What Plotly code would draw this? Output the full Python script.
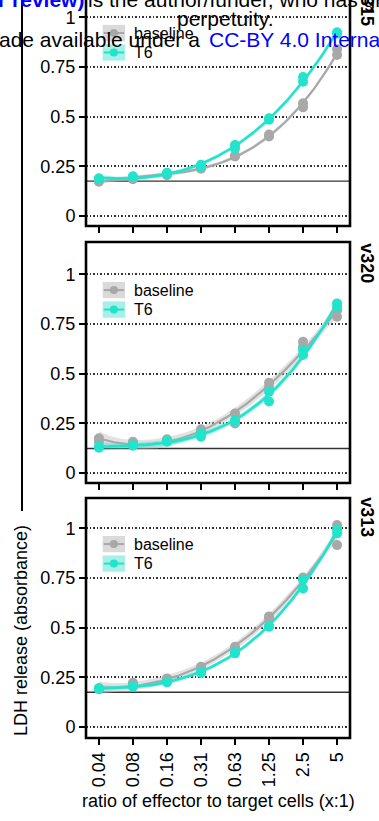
import numpy as np
import plotly.graph_objects as go
from plotly.subplots import make_subplots

# ratio of effector to target cells (x:1)
doses = ["0.04", "0.08", "0.16", "0.31", "0.63", "1.25", "2.5", "5"]
panels = ["v315", "v320", "v313"]

# LDH release (absorbance), two replicate wells per dose
v315_baseline_r1 = [0.173, 0.185, 0.205, 0.238, 0.300, 0.400, 0.547, 0.810]
v315_baseline_r2 = [0.180, 0.188, 0.212, 0.244, 0.305, 0.410, 0.567, 0.839]
v315_t6_r1 = [0.186, 0.196, 0.212, 0.248, 0.340, 0.485, 0.676, 0.918]
v315_t6_r2 = [0.190, 0.200, 0.218, 0.258, 0.357, 0.492, 0.700, 0.925]

v320_baseline_r1 = [0.175, 0.158, 0.170, 0.220, 0.300, 0.454, 0.661, 0.820]
v320_baseline_r2 = [0.158, 0.150, 0.165, 0.208, 0.250, 0.430, 0.636, 0.787]
v320_t6_r1 = [0.132, 0.141, 0.161, 0.200, 0.265, 0.410, 0.619, 0.854]
v320_t6_r2 = [0.128, 0.138, 0.158, 0.183, 0.258, 0.360, 0.594, 0.837]

v313_baseline_r1 = [0.195, 0.223, 0.245, 0.303, 0.404, 0.557, 0.753, 1.017]
v313_baseline_r2 = [0.190, 0.215, 0.238, 0.295, 0.395, 0.547, 0.745, 0.916]
v313_t6_r1 = [0.195, 0.206, 0.228, 0.278, 0.371, 0.507, 0.743, 0.995]
v313_t6_r2 = [0.192, 0.203, 0.225, 0.272, 0.378, 0.505, 0.698, 0.975]

# target-only background per panel
background = [0.176, 0.124, 0.175]

data = {
    "v315": {"baseline": (v315_baseline_r1, v315_baseline_r2), "T6": (v315_t6_r1, v315_t6_r2)},
    "v320": {"baseline": (v320_baseline_r1, v320_baseline_r2), "T6": (v320_t6_r1, v320_t6_r2)},
    "v313": {"baseline": (v313_baseline_r1, v313_baseline_r2), "T6": (v313_t6_r1, v313_t6_r2)},
}

FONT = "Liberation Sans, Arial, sans-serif"
COL = {"baseline": "#A8A8A8", "T6": "#22E3CC"}
BAND = {"baseline": "rgba(190,190,190,0.45)", "T6": "rgba(60,225,205,0.40)"}
KEYBOX = {"baseline": "#DADADA", "T6": "#A6F0E7"}


def smooth(reps):
    # cubic fit over dose index with 95% band, like a geom_smooth
    xi = np.tile(np.arange(len(doses)), len(reps)).astype(float)
    yi = np.concatenate([np.asarray(r, float) for r in reps])
    V = np.vander(xi, 4)
    beta, *_ = np.linalg.lstsq(V, yi, rcond=None)
    res = yi - V @ beta
    s2 = res @ res / (len(yi) - 4)
    cov = s2 * np.linalg.inv(V.T @ V)
    xg = np.linspace(0, len(doses) - 1, 120)
    Vg = np.vander(xg, 4)
    pred = Vg @ beta
    se = np.sqrt(np.sum((Vg @ cov) * Vg, axis=1))
    return xg, pred, pred - 2.0 * se, pred + 2.0 * se


fig = make_subplots(rows=3, cols=1, shared_xaxes=False)

H = 738.0  # plot area height in px (margin top 0, bottom 83)
domains = [[512 / H, 1.0], [255 / H, 496 / H], [0.0, 240 / H]]
ranges = [[-0.05, 1.087], [-0.05, 1.163], [-0.055, 1.153]]

for row, name in enumerate(panels, start=1):
    for grp in ["baseline", "T6"]:
        xg, pred, lo, hi = smooth(data[name][grp])
        fig.add_trace(go.Scatter(x=xg, y=lo, mode="lines", line=dict(width=0),
                                 hoverinfo="skip", showlegend=False), row=row, col=1)
        fig.add_trace(go.Scatter(x=xg, y=hi, mode="lines", line=dict(width=0),
                                 fill="tonexty", fillcolor=BAND[grp],
                                 hoverinfo="skip", showlegend=False), row=row, col=1)
        fig.add_trace(go.Scatter(x=xg, y=pred, mode="lines",
                                 line=dict(color=COL[grp], width=2.2 if grp == "baseline" else 2.6),
                                 hoverinfo="skip", showlegend=False), row=row, col=1)
    for grp in ["baseline", "T6"]:
        for rep in data[name][grp]:
            fig.add_trace(go.Scatter(x=list(range(len(doses))), y=rep, mode="markers",
                                     marker=dict(color=COL[grp], size=10),
                                     name=grp, showlegend=False), row=row, col=1)

shapes = []
annotations = []
for i, name in enumerate(panels):
    ax = "" if i == 0 else str(i + 1)
    xa, ya = "x" + ax, "y" + ax
    fig.layout["yaxis" + ax].update(
        domain=domains[i], range=ranges[i], tickvals=[0, 0.25, 0.5, 0.75, 1],
        ticktext=["0", "0.25", "0.5", "0.75", "1"], ticks="outside", ticklen=6,
        tickwidth=1.5, tickcolor="black", showline=False, zeroline=False,
        showgrid=True, gridcolor="#333333", griddash="1.5px,2px", gridwidth=1.5,
        tickfont=dict(size=18, color="black", family=FONT))
    fig.layout["xaxis" + ax].update(
        range=[-0.38, 7.38], tickvals=list(range(len(doses))), ticktext=doses,
        ticks="outside", ticklen=6, tickwidth=1.5, tickcolor="black",
        showgrid=False, zeroline=False, showline=False, tickangle=-90,
        showticklabels=(i == 2), tickfont=dict(size=18, color="black", family=FONT))

    # panel border (top panel runs off the page)
    shapes.append(dict(type="rect", xref=xa + " domain", yref=ya + " domain",
                       x0=0, x1=1, y0=0, y1=1.2 if i == 0 else 1,
                       line=dict(color="black", width=2.6), layer="above"))
    # background line
    shapes.append(dict(type="line", xref=xa + " domain", yref=ya, x0=0, x1=1,
                       y0=background[i], y1=background[i],
                       line=dict(color="#333333", width=1.4), layer="below"))
    # legend keys
    for grp, yc in [("baseline", 0.921), ("T6", 0.823)]:
        shapes.append(dict(type="rect", xref=xa, yref=ya, x0=0.11, x1=0.77,
                           y0=yc - 0.041, y1=yc + 0.041, fillcolor=KEYBOX[grp],
                           line=dict(width=0), layer="above"))
        shapes.append(dict(type="line", xref=xa, yref=ya, x0=0.14, x1=0.74,
                           y0=yc, y1=yc, line=dict(color=COL[grp], width=2), layer="above"))
        shapes.append(dict(type="circle", xref=xa, yref=ya, x0=0.44 - 0.12, x1=0.44 + 0.12,
                           y0=yc - 0.02, y1=yc + 0.02, fillcolor=COL[grp],
                           line=dict(width=0), layer="above"))
        annotations.append(dict(xref=xa, yref=ya, x=0.97, y=yc, text=grp,
                                xanchor="left", yanchor="middle", showarrow=False,
                                font=dict(size=16, color="black", family=FONT)))
    # strip label
    annotations.append(dict(xref=xa + " domain", yref=ya, x=1.064, y=1.057,
                            text="<b>" + name + "</b>", textangle=90, showarrow=False,
                            xanchor="center", yanchor="middle",
                            font=dict(size=18, color="black", family=FONT)))

# axis titles
annotations.append(dict(xref="paper", yref="paper", x=0.5, y=1 - 801 / H,
                        text="ratio of effector to target cells (x:1)", showarrow=False,
                        xanchor="center", yanchor="middle",
                        font=dict(size=18, color="black", family=FONT)))
annotations.append(dict(xref="paper", yref="paper", x=(21 - 86) / 264, y=1 - 631 / H,
                        text="LDH release (absorbance)", textangle=-90, showarrow=False,
                        xanchor="center", yanchor="middle",
                        font=dict(size=18, color="black", family=FONT)))
shapes.append(dict(type="line", xref="paper", yref="paper", x0=(22 - 86) / 264,
                   x1=(22 - 86) / 264, y0=1 - 511 / H, y1=1.01,
                   line=dict(color="black", width=2)))

# preprint licence overlay
wm = dict(size=21, family=FONT)
annotations += [
    dict(xref="paper", yref="paper", x=0, y=1 + 1 / H, xanchor="right", yanchor="middle",
         text="<b>certified by peer review)</b>", showarrow=False, font=dict(color="#0000FF", **wm)),
    dict(xref="paper", yref="paper", x=0, y=1 + 1 / H, xanchor="left", yanchor="middle",
         text="is the author/funder, who has granted bioRxiv a license", showarrow=False,
         font=dict(color="black", **wm)),
    dict(xref="paper", yref="paper", x=(225 - 86) / 264, y=1 - 19 / H, xanchor="center",
         yanchor="middle", text="perpetuity.", showarrow=False, font=dict(color="black", **wm)),
    dict(xref="paper", yref="paper", x=(202 - 86) / 264, y=1 - 39 / H, xanchor="right",
         yanchor="middle", text="It is made available under a", showarrow=False,
         font=dict(color="black", **wm)),
    dict(xref="paper", yref="paper", x=(207 - 86) / 264, y=1 - 39 / H, xanchor="left",
         yanchor="middle", text="CC-BY 4.0 International license.", showarrow=False,
         font=dict(color="#0000FF", **wm)),
]

fig.update_layout(
    width=379, height=821,
    margin=dict(l=86, r=29, t=0, b=83),
    plot_bgcolor="white", paper_bgcolor="white",
    showlegend=False, shapes=shapes, annotations=annotations,
    font=dict(family=FONT, color="black"),
)

fig.write_html("out.html", config={"displayModeBar": False},
               post_script="document.body.style.margin='0px';")
